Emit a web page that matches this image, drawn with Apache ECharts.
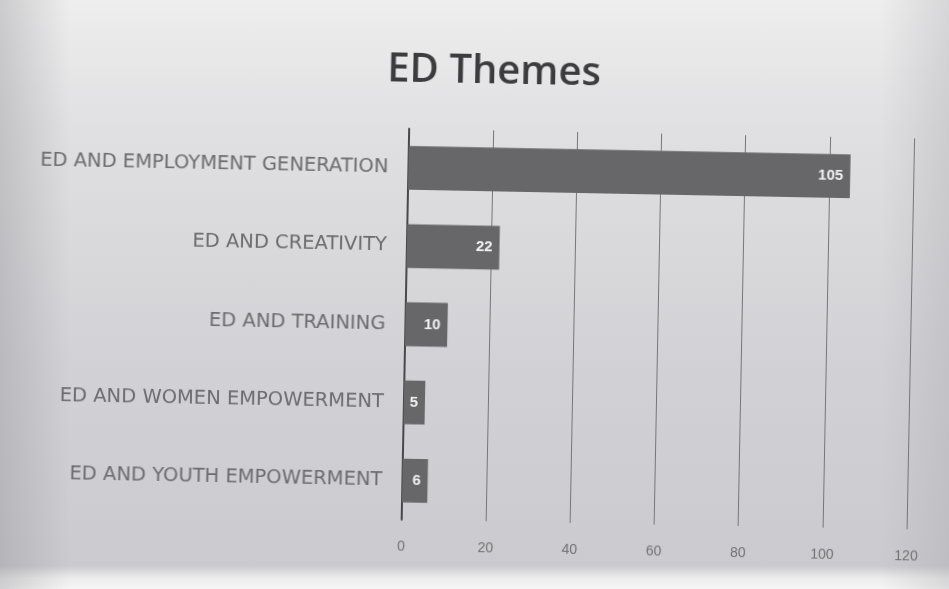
<!DOCTYPE html>
<html>
<head>
<meta charset="utf-8">
<script src="https://cdn.jsdelivr.net/npm/echarts@6/dist/echarts.min.js"></script>
<style>
  html, body { margin: 0; padding: 0; width: 949px; height: 589px; overflow: hidden; }
  body {
    background:
      linear-gradient(90deg, rgba(140,140,145,0.35) 0px, rgba(150,150,150,0) 70px, rgba(150,150,150,0) 880px, rgba(160,160,165,0.3) 949px),
      linear-gradient(180deg, #eeeeee 0px, #e0e0e2 130px, #d2d2d6 360px, #cbcbcf 566px, #ececec 578px, #f6f6f6 589px);
  }
  #chart { width: 949px; height: 589px; transform: rotate(1.1deg); transform-origin: 50% 50%; }
</style>
</head>
<body>
<div id="chart"></div>
<script>
// Themes, listed top to bottom as they appear on the chart
const themes = [
  'ED AND EMPLOYMENT GENERATION',
  'ED AND CREATIVITY',
  'ED AND TRAINING',
  'ED AND WOMEN EMPOWERMENT',
  'ED AND YOUTH EMPOWERMENT'
];
const counts = [105, 22, 10, 5, 6];
const xTicks = [0, 20, 40, 60, 80, 100, 120];

const chart = echarts.init(document.getElementById('chart'), null, { renderer: 'canvas' });

chart.setOption({
  backgroundColor: 'transparent',
  animation: false,
  title: {
    text: 'ED Themes',
    left: 378,
    top: 47,
    textStyle: {
      fontFamily: 'Open Sans',
      fontWeight: 600,
      fontSize: 40,
      color: '#3c3c3e'
    }
  },
  grid: { left: 406, right: 38, top: 130, bottom: 68 },
  xAxis: {
    type: 'value',
    min: xTicks[0],
    max: xTicks[xTicks.length - 1],
    interval: xTicks[1] - xTicks[0],
    axisLine: { show: false },
    axisTick: { show: false },
    axisLabel: {
      margin: 20,
      fontFamily: 'Liberation Sans',
      fontSize: 14,
      color: '#717171'
    },
    splitLine: { show: true, lineStyle: { color: '#767678', width: 1 } }
  },
  yAxis: {
    type: 'category',
    inverse: true,
    data: themes,
    axisLine: { show: true, lineStyle: { color: '#48484a', width: 2 } },
    axisTick: { show: false },
    axisLabel: {
      margin: 20,
      fontFamily: 'DejaVu Sans',
      fontSize: 19.5,
      color: '#6c6c70'
    }
  },
  series: [{
    type: 'bar',
    data: counts,
    barWidth: '56%',
    itemStyle: { color: '#67676a' },
    label: {
      show: true,
      position: 'insideRight',
      offset: [-2, 0],
      color: '#f2f2f2',
      fontFamily: 'Liberation Sans',
      fontWeight: 'bold',
      fontSize: 15
    }
  }]
});
</script>
</body>
</html>
